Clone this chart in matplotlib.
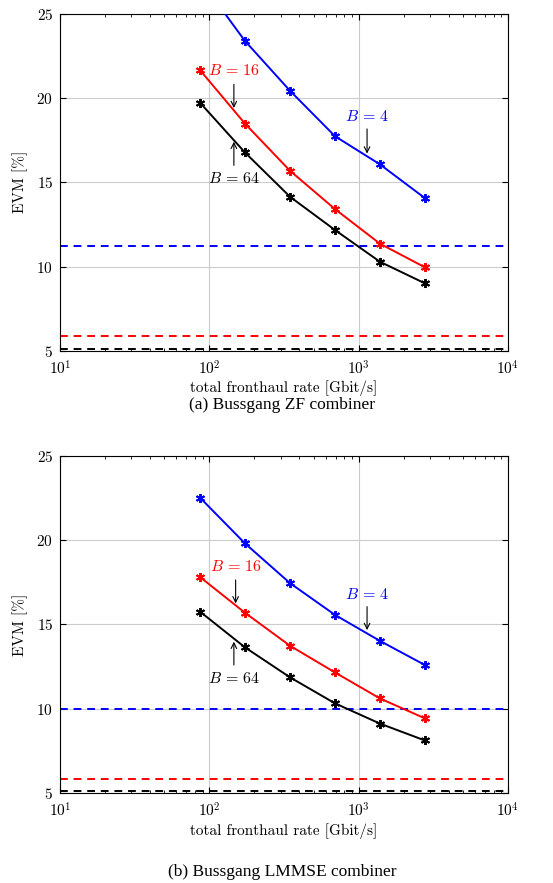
import matplotlib
matplotlib.use("Agg")
import matplotlib.pyplot as plt

# fronthaul rates [Gbit/s]
rate = [86.7, 173, 347, 694, 1388, 2776]

# (a) Bussgang ZF combiner, EVM [%]
zf_b4 = [27.0, 23.38, 20.42, 17.73, 16.06, 14.06]
zf_b16 = [21.64, 18.48, 15.68, 13.41, 11.36, 9.96]
zf_b64 = [19.71, 16.77, 14.14, 12.17, 10.29, 9.01]
zf_inf = [11.24, 5.87, 5.14]   # dashed levels for B = 4, 16, 64

# (b) Bussgang LMMSE combiner, EVM [%]
lm_b4 = [22.51, 19.81, 17.45, 15.57, 14.03, 12.6]
lm_b16 = [17.81, 15.70, 13.74, 12.16, 10.62, 9.44]
lm_b64 = [15.76, 13.65, 11.87, 10.33, 9.13, 8.13]
lm_inf = [10.01, 5.85, 5.14]

colors = ["blue", "red", "black"]
labels = [r"$B\,=\,4$", r"$B\,=\,16$", r"$B\,=\,64$"]

plt.rcParams["mathtext.fontset"] = "cm"
plt.rcParams["font.family"] = ["cmr10"]
plt.rcParams["axes.formatter.use_mathtext"] = True

fig = plt.figure(figsize=(5.53, 8.83), dpi=100)
ax1 = fig.add_axes([60 / 553, 1 - 351 / 883, 448 / 553, 337.5 / 883])
ax2 = fig.add_axes([60 / 553, 1 - 793.3 / 883, 448 / 553, 337.6 / 883])

star = (6, 2, 0)


def draw(ax, series, levels, notes):
    for ys, lev, c in zip(series, levels, colors):
        ax.plot(rate, ys, color=c, lw=1.4, marker=star, ms=6.5, mew=1.4, zorder=3)
        ax.axhline(lev, color=c, lw=1.4, ls=(0, (4, 3)), zorder=2)
    for (txt, c, tpos, a0, a1) in notes:
        ax.text(tpos[0], tpos[1], txt, color=c, fontsize=11.5, ha="center", va="center")
        ax.annotate("", xy=a1, xytext=a0,
                    arrowprops=dict(arrowstyle="->", lw=0.8, color="black",
                                    shrinkA=0, shrinkB=0))
    ax.set_xscale("log")
    ax.set_xlim(10, 1e4)
    ax.set_ylim(5, 25)
    ax.set_yticks([5, 10, 15, 20, 25])
    ax.grid(True, which="major", color="#cccccc", lw=0.8)
    ax.set_axisbelow(True)
    ax.tick_params(which="both", direction="in", top=True, right=True, labelsize=11)
    ax.tick_params(which="major", length=4)
    ax.tick_params(which="minor", length=2.5)
    ax.tick_params(axis="x", pad=6)
    ax.tick_params(axis="y", pad=5)
    ax.set_xlabel("total fronthaul rate [Gbit/s]", fontsize=11, labelpad=2)
    ax.set_ylabel("EVM [%]", fontsize=11, labelpad=6)
    for s in ax.spines.values():
        s.set_linewidth(0.8)


draw(ax1, [zf_b4, zf_b16, zf_b64], zf_inf, [
    (labels[0], "blue", (1138, 18.87), (1138, 18.16), (1138, 16.7)),
    (labels[1], "red", (146, 21.6), (146, 20.8), (146, 19.4)),
    (labels[2], "black", (146, 15.2), (146, 16.0), (146, 17.4)),
])
draw(ax2, [lm_b4, lm_b16, lm_b64], lm_inf, [
    (labels[0], "blue", (1138, 16.8), (1138, 16.06), (1138, 14.67)),
    (labels[1], "red", (150, 18.43), (150, 17.64), (150, 16.25)),
    (labels[2], "black", (146, 11.81), (146, 12.6), (146, 13.98)),
])

fig.text(282 / 553, 1 - 405 / 883, "(a) Bussgang ZF combiner", ha="center", va="center",
         fontsize=12.5, family="Liberation Serif")
fig.text(282 / 553, 1 - 872 / 883, "(b) Bussgang LMMSE combiner", ha="center", va="center",
         fontsize=12.5, family="Liberation Serif")

fig.savefig("out.png", dpi=100)
